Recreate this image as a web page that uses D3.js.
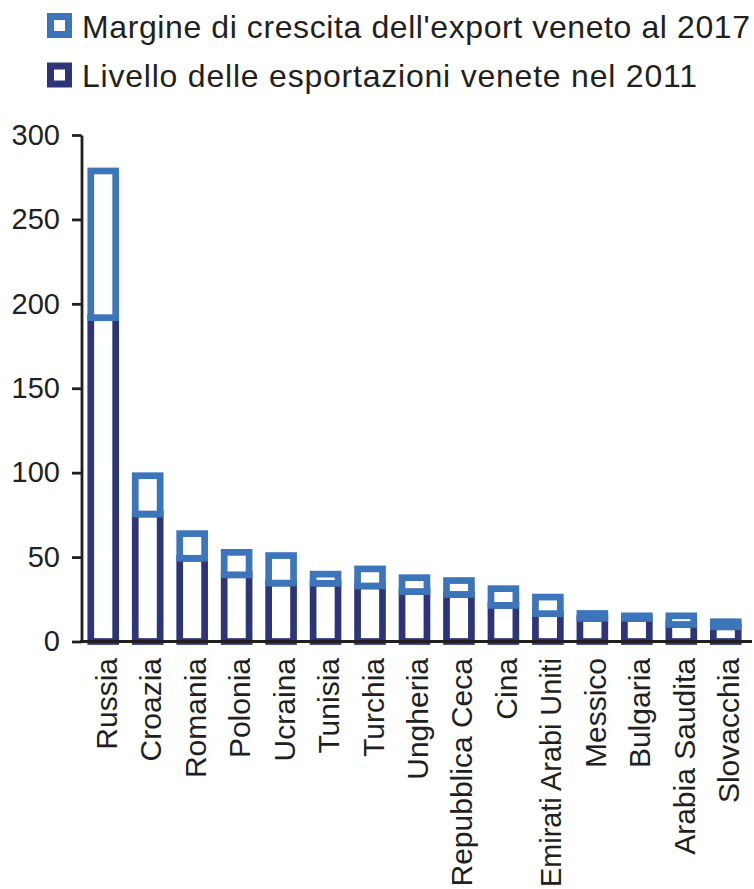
<!DOCTYPE html>
<html>
<head>
<meta charset="utf-8">
<script src="https://cdn.jsdelivr.net/npm/d3@7/dist/d3.min.js"></script>
<style>
  html, body { margin: 0; padding: 0; background: #ffffff; }
  svg { display: block; }
  text { font-family: "Liberation Sans", Arial, Helvetica, sans-serif; fill: #231f20; }
</style>
</head>
<body>
<svg id="chart" width="754" height="889"></svg>
<script>
// Paesi di destinazione
const countries = ["Russia", "Croazia", "Romania", "Polonia", "Ucraina", "Tunisia", "Turchia",
  "Ungheria", "Repubblica Ceca", "Cina", "Emirati Arabi Uniti", "Messico", "Bulgaria",
  "Arabia Saudita", "Slovacchia"];

// Livello delle esportazioni venete nel 2011
const level2011 = [191.8, 75.5, 49.3, 39.5, 34.6, 34.5, 32.9, 29.6, 27.9, 21.4, 16.5, 13.7, 13.7, 10.1, 8.7];

// Margine di crescita al 2017 (impilato sopra il livello 2011)
const margin2017 = [86.9, 22.7, 14.6, 13.3, 16.3, 5.4, 10.1, 8.2, 8.2, 9.9, 9.8, 2.9, 1.5, 5.1, 3.0];

const yTicks = [0, 50, 100, 150, 200, 250, 300];

const legendLabels = [
  "Margine di crescita dell'export veneto al 2017",
  "Livello delle esportazioni venete nel 2011"
];

const colLight = "#3d75ba";
const colDark = "#2d3478";
const colAxis = "#231f20";
const barStroke = 6.7;

const svg = d3.select("#chart");
const H = +svg.attr("height");

const x = d3.scaleBand()
  .domain(countries)
  .range([81, 748])
  .paddingInner(0.44)
  .paddingOuter(0.22);

const y = d3.scaleLinear()
  .domain([0, 300])
  .range([641.5, 135]);

const rows = countries.map((c, i) => ({
  country: c,
  level: level2011[i],
  total: level2011[i] + margin2017[i]
}));

// Segmento inferiore: livello 2011
svg.append("g").selectAll("rect")
  .data(rows)
  .join("rect")
  .attr("x", d => x(d.country))
  .attr("width", x.bandwidth())
  .attr("y", d => y(d.level))
  .attr("height", d => y(0) - y(d.level))
  .attr("fill", "#ffffff")
  .attr("stroke", colDark)
  .attr("stroke-width", barStroke);

// Segmento superiore: margine di crescita
svg.append("g").selectAll("rect")
  .data(rows)
  .join("rect")
  .attr("x", d => x(d.country))
  .attr("width", x.bandwidth())
  .attr("y", d => y(d.total))
  .attr("height", d => y(d.level) - y(d.total))
  .attr("fill", "#ffffff")
  .attr("stroke", colLight)
  .attr("stroke-width", barStroke);

// Asse Y
const yAxis = svg.append("g")
  .attr("transform", "translate(81.5,0)")
  .call(d3.axisLeft(y).tickValues(yTicks).tickSize(9.5).tickSizeOuter(0).tickPadding(12));
yAxis.select(".domain").attr("stroke", colAxis).attr("stroke-width", 2.8);
yAxis.selectAll(".tick line").attr("stroke", colAxis).attr("stroke-width", 2.8);
yAxis.selectAll(".tick text")
  .attr("font-size", 29)
  .attr("font-family", "'Liberation Sans', Arial, Helvetica, sans-serif")
  .attr("fill", colAxis);

// Linea di base
svg.append("line")
  .attr("x1", 80.1).attr("x2", 752)
  .attr("y1", y(0)).attr("y2", y(0))
  .attr("stroke", colAxis)
  .attr("stroke-width", 3);

// Etichette dei paesi, ruotate
const labelOffset = 16.5;
const xAxis = svg.append("g")
  .attr("transform", `translate(0,${y(0)})`)
  .call(d3.axisBottom(x).tickSize(0).tickSizeOuter(0).tickPadding(0));
xAxis.select(".domain").remove();
xAxis.selectAll(".tick text")
  .attr("font-size", 30)
  .attr("font-family", "'Liberation Sans', Arial, Helvetica, sans-serif")
  .attr("fill", colAxis)
  .attr("text-anchor", "end")
  .attr("transform", `translate(0,${labelOffset}) rotate(-90)`)
  .attr("x", 0)
  .attr("y", 0)
  .attr("dy", "0.45em")
  .each(function () {
    // comprime le etichette troppo lunghe per restare nel riquadro
    const room = H - 2 - (y(0) + labelOffset);
    const len = this.getComputedTextLength();
    if (len > room) {
      d3.select(this).attr("textLength", room).attr("lengthAdjust", "spacingAndGlyphs");
    }
  });

// Legenda
const legendColors = [colLight, colDark];
const legendWidths = [668, 615];
const legend = svg.append("g");
legendLabels.forEach((lab, i) => {
  const top = 13 + i * 49.5;
  legend.append("rect")
    .attr("x", 50.5).attr("y", top + 3.5)
    .attr("width", 18).attr("height", 18)
    .attr("fill", "#ffffff")
    .attr("stroke", legendColors[i])
    .attr("stroke-width", 7);
  legend.append("text")
    .attr("x", 82)
    .attr("y", top + 24.5)
    .attr("font-size", 32)
    .attr("textLength", legendWidths[i])
    .attr("lengthAdjust", "spacing")
    .text(lab);
});
</script>
</body>
</html>
